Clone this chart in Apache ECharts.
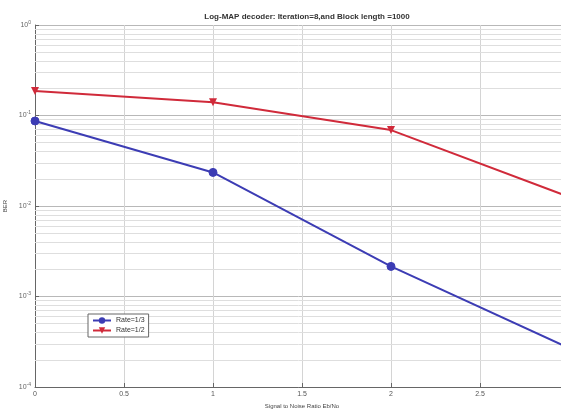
<!DOCTYPE html>
<html>
<head>
<meta charset="utf-8">
<script src="https://cdn.jsdelivr.net/npm/echarts@6/dist/echarts.min.js"></script>
<style>
  html, body { margin: 0; padding: 0; background: #fff; }
  #chart { width: 561px; height: 410px; }
</style>
</head>
<body>
<div id="chart"></div>
<script>
  // data
  var snr = [0, 1, 2, 3];
  var rate13 = [0.087, 0.0235, 0.00215, 0.00027];
  var rate12 = [0.187, 0.14, 0.069, 0.0126];
  var xTicks = [0, 0.5, 1, 1.5, 2, 2.5, 3];

  // minor log grid lines (2..9 in each decade)
  var minorLines = [];
  for (var d = -4; d < 0; d++) {
    for (var k = 2; k <= 9; k++) {
      var v = k * Math.pow(10, d);
      minorLines.push([{ coord: [0, v] }, { coord: [3, v] }]);
    }
  }

  var myChart = echarts.init(document.getElementById('chart'));
  var font = '"Liberation Sans Narrow", "Liberation Sans", Arial, sans-serif';

  var option = {
    animation: false,
    title: {
      text: 'Log-MAP decoder: Iteration=8,and Block length =1000',
      left: 302,
      textAlign: 'center',
      top: 8,
      textStyle: { fontSize: 8, fontWeight: 'bold', color: '#333', fontFamily: font }
    },
    legend: {
      orient: 'vertical',
      left: 88,
      top: 314,
      padding: [3, 4, 3, 4],
      itemGap: 3,
      itemWidth: 18,
      itemHeight: 8,
      borderColor: '#666',
      borderWidth: 1,
      backgroundColor: '#fff',
      textStyle: { fontSize: 7, color: '#333', fontFamily: font },
      data: ['Rate=1/3', 'Rate=1/2']
    },
    grid: { left: 35, top: 25, width: 534, height: 362, outerBoundsMode: 'none', containLabel: false },
    xAxis: {
      type: 'value',
      min: 0,
      max: 3,
      interval: 0.5,
      name: 'Signal to Noise Ratio Eb/No',
      nameLocation: 'middle',
      nameGap: 14,
      nameTextStyle: { fontSize: 6, color: '#444', fontFamily: font },
      axisLine: { show: true, lineStyle: { color: '#666', width: 1 } },
      axisTick: { show: true, inside: true, length: 4, lineStyle: { color: '#666' } },
      axisLabel: {
        fontSize: 7, color: '#555', margin: 4, fontFamily: font,
        formatter: function (v) { return xTicks.indexOf(v) >= 0 ? String(v) : ''; }
      },
      splitLine: { show: true, lineStyle: { color: '#d4d4d4', width: 1 } }
    },
    yAxis: {
      type: 'log',
      logBase: 10,
      min: 0.0001,
      max: 1,
      interval: 1,
      name: 'BER',
      nameLocation: 'middle',
      nameRotate: 90,
      nameGap: 14,
      nameTextStyle: { fontSize: 6, color: '#444', fontFamily: font },
      axisLine: { show: true, lineStyle: { color: '#666', width: 1 } },
      axisTick: { show: true, inside: true, length: 4, lineStyle: { color: '#666' } },
      axisLabel: {
        margin: 4,
        formatter: function (v) {
          var e = Math.round(Math.log(v) / Math.LN10);
          return '{b|10}{s|' + e + '}';
        },
        rich: {
          b: { fontSize: 7, color: '#666', fontFamily: font },
          s: { fontSize: 5, color: '#666', fontFamily: font, verticalAlign: 'top', padding: [0, 0, 5, 0] }
        }
      },
      splitLine: { show: true, lineStyle: { color: '#b8b8b8', width: 1 } }
    },
    series: [
      {
        name: 'minor grid',
        type: 'line',
        data: [],
        silent: true,
        z: 1,
        markLine: {
          silent: true,
          symbol: 'none',
          z: 1,
          label: { show: false },
          lineStyle: { color: '#dedede', width: 1, type: 'solid' },
          data: minorLines
        }
      },
      {
        name: 'Rate=1/3',
        type: 'line',
        data: snr.map(function (x, i) { return [x, rate13[i]]; }),
        symbol: 'circle',
        symbolSize: 8,
        lineStyle: { color: '#3c3cb4', width: 2 },
        itemStyle: { color: '#3c3cb4', borderColor: '#3c3cb4' },
        z: 3
      },
      {
        name: 'Rate=1/2',
        type: 'line',
        data: snr.map(function (x, i) { return [x, rate12[i]]; }),
        symbol: 'triangle',
        symbolRotate: 180,
        symbolSize: 8,
        lineStyle: { color: '#d02a3a', width: 2 },
        itemStyle: { color: '#d02a3a' },
        z: 3
      }
    ]
  };

  myChart.setOption(option);
</script>
</body>
</html>
